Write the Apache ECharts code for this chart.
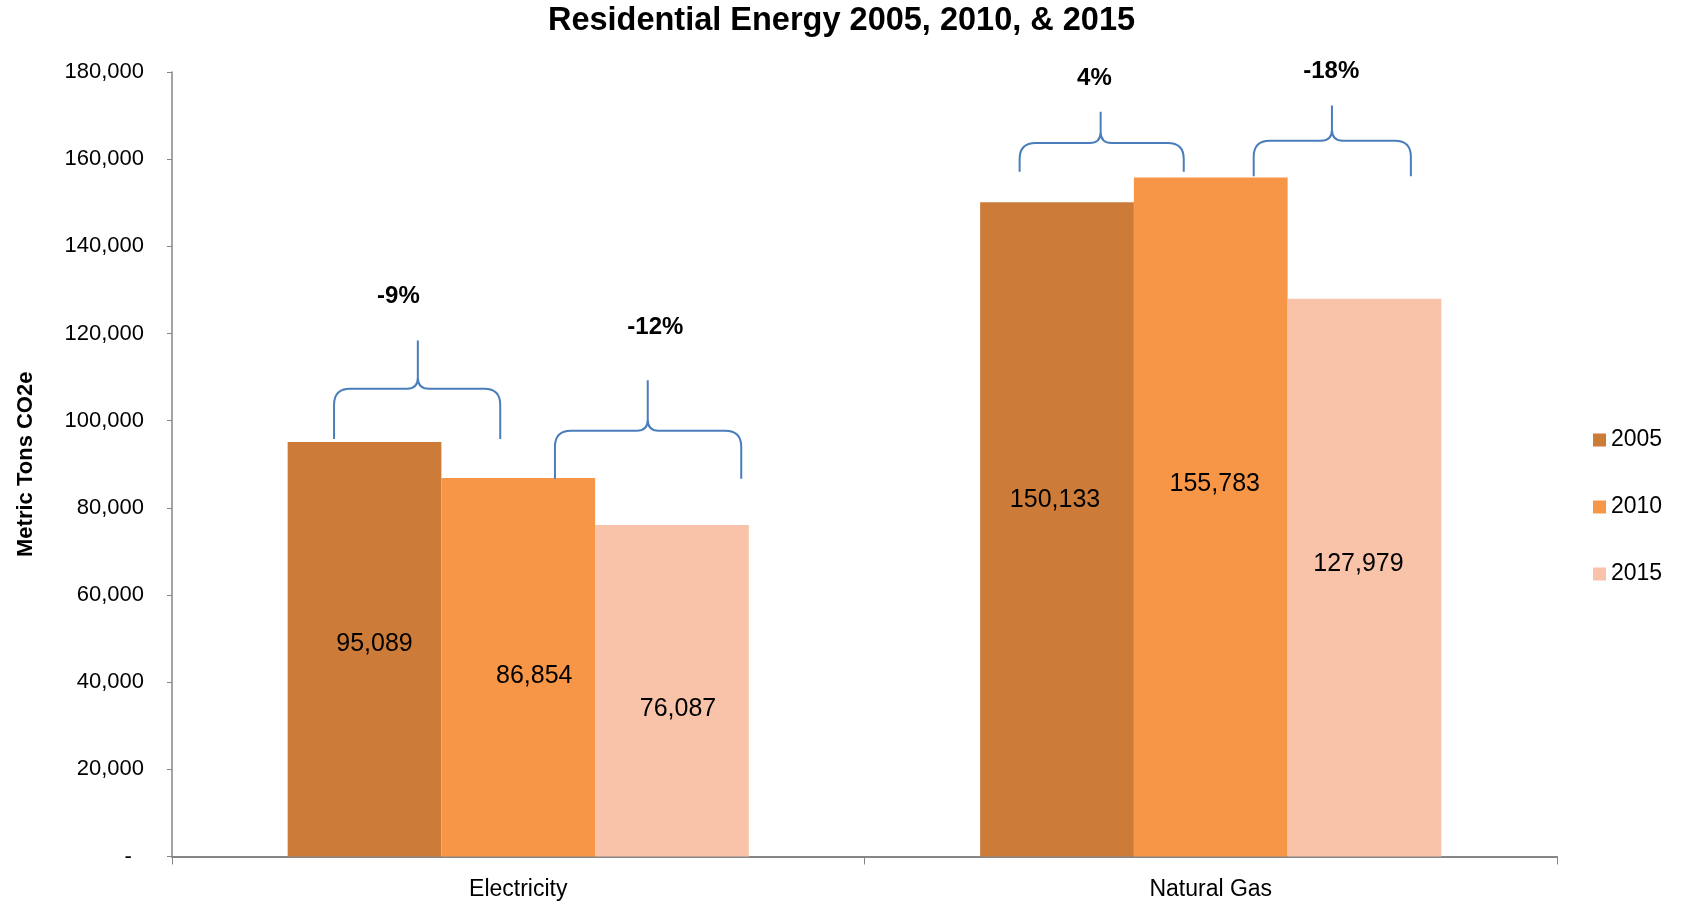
<!DOCTYPE html>
<html>
<head>
<meta charset="utf-8">
<script src="https://cdn.jsdelivr.net/npm/echarts@6/dist/echarts.min.js"></script>
<style>
  html, body { margin: 0; padding: 0; background: #fff; }
  #chart { width: 1683px; height: 906px; }
</style>
</head>
<body>
<div id="chart"></div>
<script>
// ---- Data ----
const categories = ['Electricity', 'Natural Gas'];
const seriesNames = ['2005', '2010', '2015'];
const values2005 = [95089, 150133];
const values2010 = [86854, 155783];
const values2015 = [76087, 127979];
const yTicks = [0, 20000, 40000, 60000, 80000, 100000, 120000, 140000, 160000, 180000];

// Brace annotations: comparisons within each category (from series -> to series)
const braceCategory = [0, 0, 1, 1];
const braceFrom = [0, 1, 0, 1];
const braceTo = [1, 2, 1, 2];

// ---- Layout / styling config (not data) ----
const colors = ['#CD7B38', '#F79646', '#F9C3A9'];
const fontFamily = '"Liberation Sans", Arial, sans-serif';
// per-bar label offsets [dx, dy] in px, to match hand-placed labels
const labelOffsets = [
  [[10, -5], [-2, -29]],
  [[16, 9], [4, -33]],
  [[6, 18], [-6, -14]]
];
// brace geometry: x fractions of band from category centre, y levels in axis units
const braceGeom = [
  { x0: -0.266, x1: -0.026, xt: -0.145, xl: -0.173, yb: 95800, yf: 107300, yt: 118400, yl: 128500 },
  { x0: 0.053, x1: 0.322, xt: 0.187, xl: 0.198, yb: 86700, yf: 97700, yt: 109300, yl: 121400 },
  { x0: -0.276, x1: -0.039, xt: -0.159, xl: -0.168, yb: 157100, yf: 163700, yt: 170900, yl: 178500 },
  { x0: 0.062, x1: 0.289, xt: 0.175, xl: 0.174, yb: 156100, yf: 164200, yt: 172300, yl: 180200 }
];

const allValues = [values2005, values2010, values2015];
const braceLabels = braceCategory.map((c, i) => {
  const a = allValues[braceFrom[i]][c], b = allValues[braceTo[i]][c];
  return Math.round((b - a) / a * 100) + '%';
});

const fmt = v => v === 0 ? '-  ' : v.toLocaleString('en-US');

const barSeries = seriesNames.map((name, si) => ({
  name: name,
  type: 'bar',
  barGap: '0%',
  barCategoryGap: '33.4%',
  itemStyle: { color: colors[si] },
  data: allValues[si].map((v, ci) => ({
    value: v,
    label: { offset: labelOffsets[si][ci] }
  })),
  label: {
    show: true,
    position: 'inside',
    color: '#000',
    fontSize: 25,
    fontFamily: fontFamily,
    formatter: p => fmt(p.value)
  }
}));

const braceSeries = {
  type: 'custom',
  coordinateSystem: 'cartesian2d',
  clip: false,
  z: 10,
  silent: true,
  data: braceCategory.map((c, i) => [c, i]),
  renderItem: function (params, api) {
    const cat = api.value(0);
    const i = api.value(1);
    const g = braceGeom[i];
    const cx = api.coord([cat, 0])[0];
    const bw = api.size([1, 0])[0];
    const X = f => cx + f * bw;
    const Y = v => api.coord([cat, v])[1];
    const x0 = X(g.x0), x1 = X(g.x1), xm = X(g.xt);
    const yb = Y(g.yb), yf = Y(g.yf), yt = Y(g.yt);
    const r = Math.min(16, (yb - yf) * 0.8);
    const rm = 11;
    const path = [
      'M', x0, yb,
      'L', x0, yf + r,
      'Q', x0, yf, x0 + r, yf,
      'L', xm - rm, yf,
      'Q', xm, yf, xm, yf - rm,
      'L', xm, yt,
      'M', xm, yf - rm,
      'Q', xm, yf, xm + rm, yf,
      'L', x1 - r, yf,
      'Q', x1, yf, x1, yf + r,
      'L', x1, yb
    ].join(' ');
    return {
      type: 'group',
      children: [
        {
          type: 'path',
          shape: { pathData: path },
          style: { stroke: '#4A7EBB', lineWidth: 2, fill: null }
        },
        {
          type: 'text',
          x: X(g.xl),
          y: Y(g.yl),
          style: {
            text: braceLabels[i],
            fill: '#000',
            font: 'bold 24px ' + fontFamily,
            align: 'center',
            verticalAlign: 'middle'
          }
        }
      ]
    };
  }
};

const chart = echarts.init(document.getElementById('chart'), null, { renderer: 'canvas' });
chart.setOption({
  animation: false,
  backgroundColor: '#fff',
  title: {
    text: 'Residential Energy 2005, 2010, & 2015',
    left: 'center',
    top: 5,
    padding: 0,
    textStyle: { fontFamily: fontFamily, fontWeight: 'bold', fontSize: 32.5, color: '#000' }
  },
  legend: {
    orient: 'vertical',
    left: 1588,
    top: 423,
    itemWidth: 13,
    itemHeight: 13,
    itemGap: 43,
    icon: 'rect',
    data: seriesNames,
    textStyle: { fontFamily: fontFamily, fontSize: 23, color: '#000', lineHeight: 24, padding: [0, 0, 0, 0] }
  },
  grid: { left: 172, right: 126, top: 72, bottom: 49.5, containLabel: false },
  xAxis: {
    type: 'category',
    data: categories,
    axisLine: { lineStyle: { color: '#868686', width: 2 } },
    axisTick: { show: true, length: 8, alignWithLabel: false, interval: 0, lineStyle: { color: '#868686', width: 1 } },
    axisLabel: { color: '#000', fontSize: 23, fontFamily: fontFamily, margin: 22 }
  },
  yAxis: {
    type: 'value',
    min: yTicks[0],
    max: yTicks[yTicks.length - 1],
    interval: yTicks[1] - yTicks[0],
    name: 'Metric Tons CO2e',
    nameLocation: 'middle',
    nameGap: 135,
    nameTextStyle: { fontFamily: fontFamily, fontWeight: 'bold', fontSize: 22, color: '#000' },
    axisLine: { show: true, lineStyle: { color: '#868686', width: 1.5 } },
    axisTick: { show: true, length: 5, lineStyle: { color: '#868686' } },
    splitLine: { show: false },
    axisLabel: { color: '#000', fontSize: 22, fontFamily: fontFamily, margin: 28, formatter: fmt }
  },
  series: barSeries.concat([braceSeries])
});
</script>
</body>
</html>
